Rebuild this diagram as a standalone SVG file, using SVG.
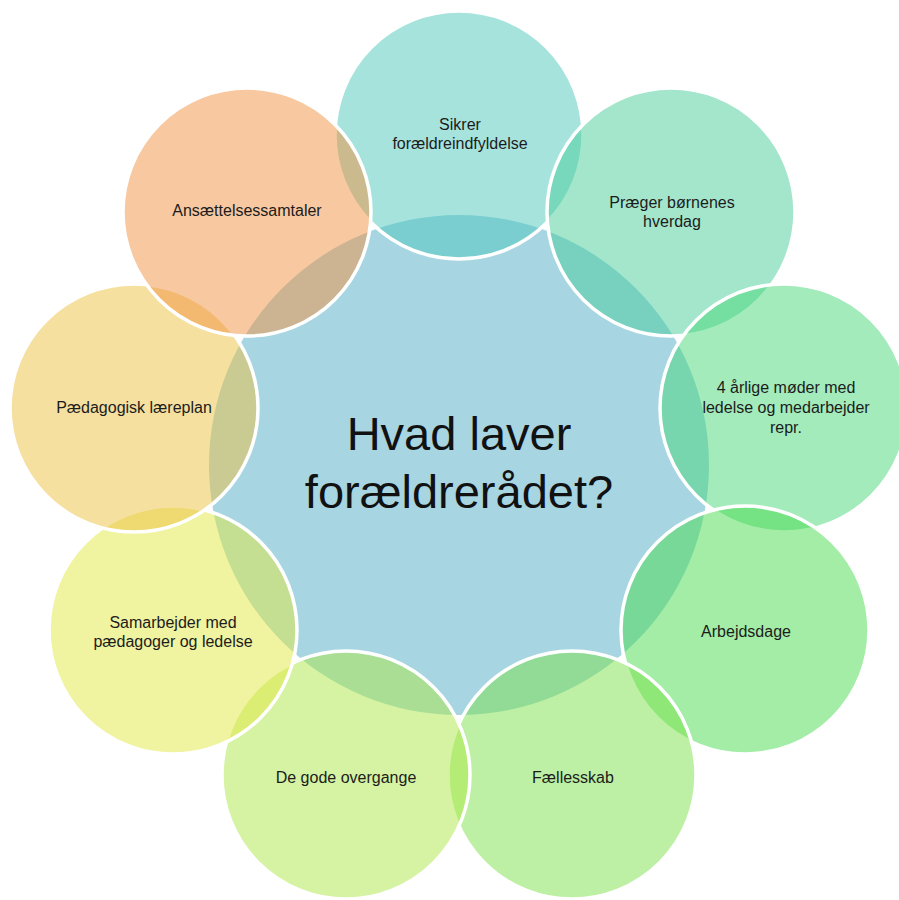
<svg xmlns="http://www.w3.org/2000/svg" width="899" height="900" viewBox="0 0 899 900">
<style>
.bg{fill:#ffffff}
.hub{fill:#a7d5e2}
.sat{fill-opacity:0.5;stroke:#ffffff;stroke-width:3.5}
.lbl{font-family:"Liberation Sans",Arial,sans-serif;font-size:16px;fill:#1c1c1c;text-anchor:middle}
.title{font-family:"Liberation Sans",Arial,sans-serif;font-size:47px;fill:#111111;text-anchor:middle}
</style>
<rect class="bg" x="0" y="0" width="899" height="900"/>
<g id="connectors"></g>
<g id="center">
<circle class="hub" cx="459" cy="465" r="250"/>
</g>
<g id="n1"><circle class="sat" cx="459" cy="135" r="124" fill="#4dc7bb"/></g>
<g id="n2"><circle class="sat" cx="671" cy="212" r="124" fill="#47cd99"/></g>
<g id="n3"><circle class="sat" cx="784" cy="408" r="124" fill="#47d777"/></g>
<g id="n4"><circle class="sat" cx="745" cy="630" r="124" fill="#47db4d"/></g>
<g id="n5"><circle class="sat" cx="572" cy="775" r="124" fill="#7be149"/></g>
<g id="n6"><circle class="sat" cx="346" cy="775" r="124" fill="#abe745"/></g>
<g id="n7"><circle class="sat" cx="173" cy="630" r="124" fill="#e1e741"/></g>
<g id="n8"><circle class="sat" cx="134" cy="408" r="124" fill="#ebc141"/></g>
<g id="n9"><circle class="sat" cx="247" cy="212" r="124" fill="#f19141"/></g>
<g id="labels">
<text class="title" x="459" y="450">Hvad laver</text>
<text class="title" x="459" y="508">forældrerådet?</text>
<text class="lbl" x="460" y="130">Sikrer</text>
<text class="lbl" x="460" y="149">forældreindfyldelse</text>
<text class="lbl" x="672" y="208">Præger børnenes</text>
<text class="lbl" x="672" y="227">hverdag</text>
<text class="lbl" x="786" y="393">4 årlige møder med</text>
<text class="lbl" x="786" y="413">ledelse og medarbejder</text>
<text class="lbl" x="786" y="433">repr.</text>
<text class="lbl" x="746" y="637">Arbejdsdage</text>
<text class="lbl" x="573" y="783">Fællesskab</text>
<text class="lbl" x="346" y="783">De gode overgange</text>
<text class="lbl" x="173" y="628">Samarbejder med</text>
<text class="lbl" x="173" y="647">pædagoger og ledelse</text>
<text class="lbl" x="134" y="413">Pædagogisk læreplan</text>
<text class="lbl" x="247" y="216">Ansættelsessamtaler</text>
</g>
</svg>
